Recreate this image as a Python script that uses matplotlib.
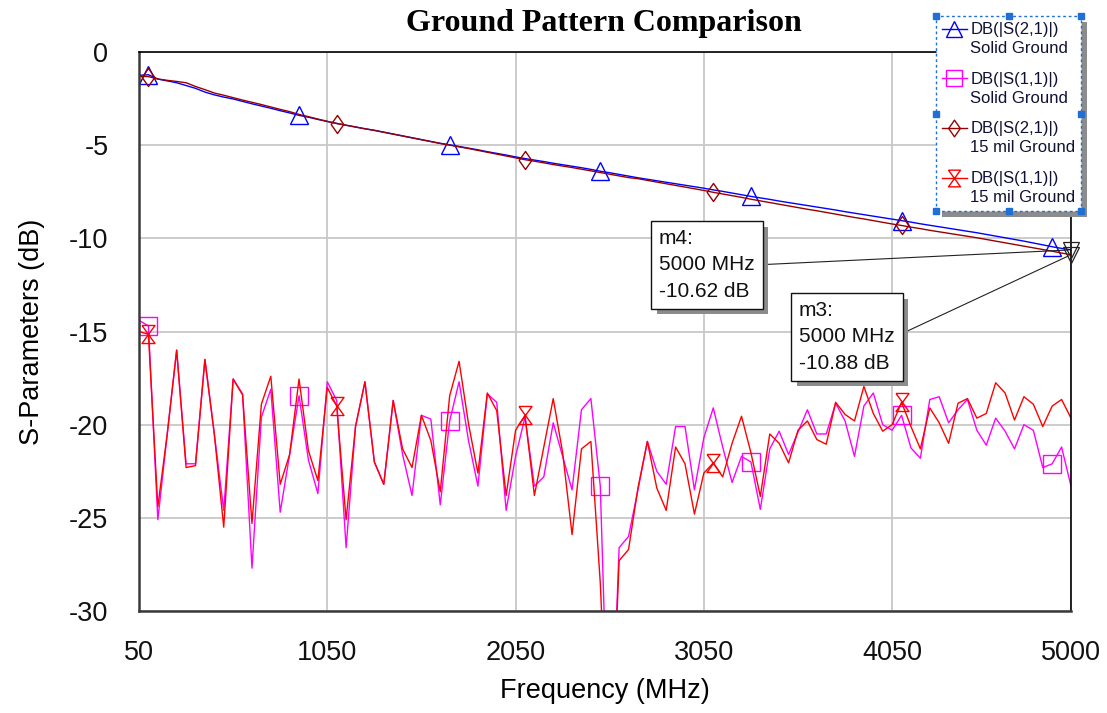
import matplotlib
matplotlib.use("Agg")
import matplotlib.pyplot as plt
import matplotlib.patheffects as pe
from matplotlib.path import Path
from matplotlib.lines import Line2D
from matplotlib.legend_handler import HandlerLine2D
import numpy as np

plt.rcParams['font.family'] = ['Liberation Sans', 'DejaVu Sans']

# -----------------------------
# data, sweep 50..5000 MHz step 50
# -----------------------------
freq = np.arange(50, 5001, 50)

s21_solid = [-1.25, -1.22, -1.45, -1.55, -1.65, -1.80, -1.95, -2.15, -2.30, -2.42,
             -2.52, -2.65, -2.78, -2.90, -3.02, -3.15, -3.27, -3.40, -3.50, -3.62,
             -3.73, -3.83, -3.93, -4.02, -4.12, -4.20, -4.30, -4.40, -4.50, -4.60,
             -4.70, -4.80, -4.90, -4.98, -5.07, -5.16, -5.25, -5.35, -5.44, -5.53,
             -5.63, -5.72, -5.80, -5.88, -5.97, -6.05, -6.13, -6.21, -6.30, -6.40,
             -6.48, -6.57, -6.66, -6.75, -6.83, -6.91, -6.99, -7.07, -7.15, -7.23,
             -7.31, -7.40, -7.48, -7.57, -7.66, -7.75, -7.83, -7.91, -8.00, -8.08,
             -8.16, -8.24, -8.32, -8.40, -8.48, -8.57, -8.65, -8.73, -8.81, -8.89,
             -8.97, -9.05, -9.13, -9.22, -9.30, -9.38, -9.46, -9.54, -9.62, -9.70,
             -9.79, -9.88, -9.97, -10.06, -10.15, -10.25, -10.35, -10.45, -10.54, -10.62]

s21_15mil = [-1.30, -1.32, -1.45, -1.52, -1.58, -1.65, -1.85, -2.02, -2.20, -2.32,
             -2.45, -2.58, -2.70, -2.82, -2.95, -3.08, -3.20, -3.35, -3.47, -3.60,
             -3.72, -3.84, -3.93, -4.03, -4.12, -4.21, -4.31, -4.41, -4.51, -4.61,
             -4.71, -4.81, -4.91, -5.00, -5.09, -5.18, -5.28, -5.38, -5.48, -5.58,
             -5.68, -5.78, -5.86, -5.95, -6.04, -6.12, -6.20, -6.29, -6.38, -6.47,
             -6.56, -6.65, -6.74, -6.80, -6.89, -6.98, -7.07, -7.16, -7.25, -7.34,
             -7.43, -7.53, -7.62, -7.71, -7.80, -7.90, -7.99, -8.08, -8.17, -8.26,
             -8.35, -8.44, -8.52, -8.61, -8.70, -8.79, -8.88, -8.96, -9.05, -9.14,
             -9.23, -9.31, -9.40, -9.48, -9.57, -9.65, -9.73, -9.81, -9.89, -9.97,
             -10.06, -10.15, -10.24, -10.33, -10.42, -10.51, -10.60, -10.69, -10.79, -10.88]

s11_solid = [-14.4, -14.7, -25.1, -20.5, -16.0, -22.1, -22.1, -16.5, -20.5, -24.6,
             -17.55, -18.35, -27.7, -19.6, -18.1, -24.7, -21.6, -18.45, -21.9, -23.7,
             -17.7, -18.7, -26.6, -20.1, -17.7, -22.0, -23.2, -18.7, -21.6, -23.8,
             -19.5, -19.7, -24.3, -19.8, -17.7, -20.85, -23.3, -18.35, -18.8, -24.6,
             -21.7, -19.6, -23.3, -22.8, -19.9, -21.7, -23.5, -19.2, -18.6, -23.3,
             -40.0, -26.6, -26.0, -23.5, -20.9, -22.5, -23.2, -20.1, -20.1, -23.5,
             -20.7, -19.1, -21.2, -23.1, -21.7, -22.0, -24.55, -21.3, -20.35, -21.6,
             -20.4, -19.2, -20.5, -20.5, -18.85, -19.8, -21.7, -19.0, -18.3, -20.0,
             -20.3, -19.5, -21.25, -21.8, -18.65, -18.5, -19.9, -19.2, -18.65, -20.3,
             -21.1, -19.65, -20.35, -21.3, -20.0, -20.3, -22.3, -22.1, -21.2, -23.3]

s11_15mil = [-15.0, -15.15, -24.4, -20.5, -16.0, -22.3, -22.2, -16.5, -20.5, -25.5,
             -17.55, -18.4, -25.3, -18.9, -17.4, -23.2, -21.6, -17.55, -21.4, -23.0,
             -18.0, -19.0, -25.1, -20.1, -17.7, -22.0, -23.2, -18.7, -21.3, -22.3,
             -19.5, -20.85, -23.6, -18.45, -16.6, -19.95, -22.6, -18.3, -19.25, -23.8,
             -20.3, -19.5, -23.8, -21.2, -18.6, -21.5, -25.9, -21.3, -20.9, -28.5,
             -40.0, -27.3, -26.7, -23.4, -20.9, -23.4, -24.6, -21.2, -22.1, -24.8,
             -22.6, -22.05, -22.8, -21.0, -19.55, -21.5, -23.85, -20.5, -21.0, -22.05,
             -20.3, -19.8, -20.8, -21.05, -18.8, -19.45, -19.8, -17.95, -19.4, -20.35,
             -20.0, -18.8, -20.1, -21.3, -19.1, -19.9, -21.0, -18.85, -18.6, -19.65,
             -19.4, -17.75, -18.3, -19.75, -18.5, -18.9, -20.1, -19.0, -18.65, -19.65]

series_labels = ["DB(|S(2,1)|)\nSolid Ground", "DB(|S(1,1)|)\nSolid Ground",
                 "DB(|S(2,1)|)\n15 mil Ground", "DB(|S(1,1)|)\n15 mil Ground"]

x_ticks = [50, 1050, 2050, 3050, 4050, 5000]
y_ticks = [0, -5, -10, -15, -20, -25, -30]

marker_freq = 5000
marker_vals = [-10.62, -10.88]   # m4, m3

# -----------------------------
# marker shapes
# -----------------------------
hourglass = Path([(-0.72, 1), (0.72, 1), (-0.72, -1), (0.72, -1), (-0.72, 1)],
                 [Path.MOVETO, Path.LINETO, Path.LINETO, Path.LINETO, Path.LINETO])
diamond = Path([(0, 1), (0.7, 0), (0, -1), (-0.7, 0), (0, 1)],
               [Path.MOVETO, Path.LINETO, Path.LINETO, Path.LINETO, Path.CLOSEPOLY])

c_blue, c_mag, c_brown, c_red = '#0000ff', '#ff00ff', '#990000', '#ff0000'

styles = [
    dict(color=c_blue, marker='^', markevery=(1, 16)),
    dict(color=c_mag, marker='s', markevery=(1, 16)),
    dict(color=c_brown, marker=diamond, markevery=(1, 20)),
    dict(color=c_red, marker=hourglass, markevery=(1, 20)),
]

fig = plt.figure(figsize=(11.07, 7.13), dpi=100, facecolor='white')
ax = fig.add_axes([139/1107, 1-611/713, 932/1107, 559/713])

# draw order: S11 first so S21 stays on top
order = [1, 3, 0, 2]
data = [s21_solid, s11_solid, s21_15mil, s11_15mil]
for k in order:
    st = styles[k]
    ax.plot(freq, data[k], color=st['color'], lw=1.0, marker=st['marker'],
            markevery=st['markevery'], ms=13, mfc='none', mec=st['color'], mew=1.0)

ax.set_xlim(50, 5000)
ax.set_ylim(-30, 0)
ax.set_xticks(x_ticks)
ax.set_yticks(y_ticks)
ax.set_xticklabels([str(v) for v in x_ticks])
ax.set_yticklabels([str(v) for v in y_ticks])
ax.tick_params(length=0, labelsize=19.5, colors='#111111')
ax.tick_params(axis='x', pad=21)
ax.tick_params(axis='y', pad=22)
ax.grid(True, color='#c8c8c8', lw=1.3)
ax.set_axisbelow(True)

for side in ['left', 'bottom']:
    ax.spines[side].set_color('#3a3a3a')
    ax.spines[side].set_linewidth(1.8)
for side in ['top', 'right']:
    ax.spines[side].set_color('#000000')
    ax.spines[side].set_linewidth(1.2)

ax.set_xlabel("Frequency (MHz)", fontsize=19.5)
ax.set_ylabel("S-Parameters (dB)", fontsize=19.5)
ax.xaxis.set_label_coords(0.5, (611-678)/559)
ax.yaxis.set_label_coords((45-139)/932, 0.5)

fig.text(604/1107, 1-24/713, "Ground Pattern Comparison", ha='center', va='center',
         fontsize=23, fontweight='bold', family='Liberation Serif')

# -----------------------------
# markers m4 / m3
# -----------------------------
for v in marker_vals:
    ax.plot([marker_freq], [v], marker='v', ms=12, mfc='none', mec='#222222',
            mew=0.9, clip_on=False, zorder=5)


def px2data(px, py):
    return 50 + (px-139)/932*4950, -(py-52)/559*30


shadow = [pe.SimplePatchShadow(offset=(4, -4), shadow_rgbFace='#8c8c8c', alpha=1.0),
          pe.Normal()]

boxes = [("m4:\n5000 MHz\n-10.62 dB", marker_vals[0], (659, 229)),
         ("m3:\n5000 MHz\n-10.88 dB", marker_vals[1], (799, 301))]
for txt, v, (bx, by) in boxes:
    ann = ax.annotate(txt, xy=(marker_freq, v), xytext=px2data(bx, by),
                      ha='left', va='top', fontsize=15, linespacing=1.5,
                      color='#111111', zorder=6,
                      bbox=dict(boxstyle='square,pad=0.38', fc='white', ec='#111111', lw=1.0),
                      arrowprops=dict(arrowstyle='-', color='#222222', lw=0.8,
                                      relpos=(1.0, 0.5), shrinkA=0, shrinkB=2))
    ann.get_bbox_patch().set_path_effects(shadow)


# -----------------------------
# legend (symbol sits next to the first text line)
# -----------------------------
class TopLineHandler(HandlerLine2D):
    def create_artists(self, legend, orig_handle, xdescent, ydescent, width,
                       height, fontsize, trans):
        arts = super().create_artists(legend, orig_handle, xdescent, ydescent,
                                      width, height, fontsize, trans)
        for a in arts:
            a.set_ydata(np.asarray(a.get_ydata(), dtype=float) + 0.62*fontsize)
        return arts


handles = [Line2D([], [], color=s['color'], lw=1.0, marker=s['marker'], ms=12,
                  mfc='none', mec=s['color'], mew=1.0) for s in styles]
leg = ax.legend(handles, series_labels, loc='upper left',
                bbox_to_anchor=(936/1107, 1-16/713), bbox_transform=fig.transFigure,
                fontsize=12, frameon=True, fancybox=False, borderpad=0.35,
                labelspacing=0.95, handlelength=1.5, handletextpad=0.2,
                borderaxespad=0, labelcolor='#111133',
                handler_map={Line2D: TopLineHandler()})
for t in leg.get_texts():
    t.set_linespacing(1.33)
frame = leg.get_frame()
frame.set_edgecolor('#1f6fd6')
frame.set_linestyle((0, (2, 2)))
frame.set_linewidth(1.0)
frame.set_alpha(1)
frame.set_path_effects([pe.SimplePatchShadow(offset=(4, -4), shadow_rgbFace='#8c8c8c', alpha=1.0),
                        pe.Normal()])
leg.set_zorder(10)

fig.canvas.draw()
bb = leg.get_window_extent().transformed(fig.transFigure.inverted())
hx = [bb.x0, (bb.x0+bb.x1)/2, bb.x1]
hy = [bb.y0, (bb.y0+bb.y1)/2, bb.y1]
pts = [(x, y) for x in hx for y in hy if not (x == hx[1] and y == hy[1])]
fig.lines.append(Line2D([p[0] for p in pts], [p[1] for p in pts], ls='none',
                        marker='s', ms=4, color='#1f6fd6', transform=fig.transFigure))

fig.savefig("out.png", dpi=100, facecolor='white')
